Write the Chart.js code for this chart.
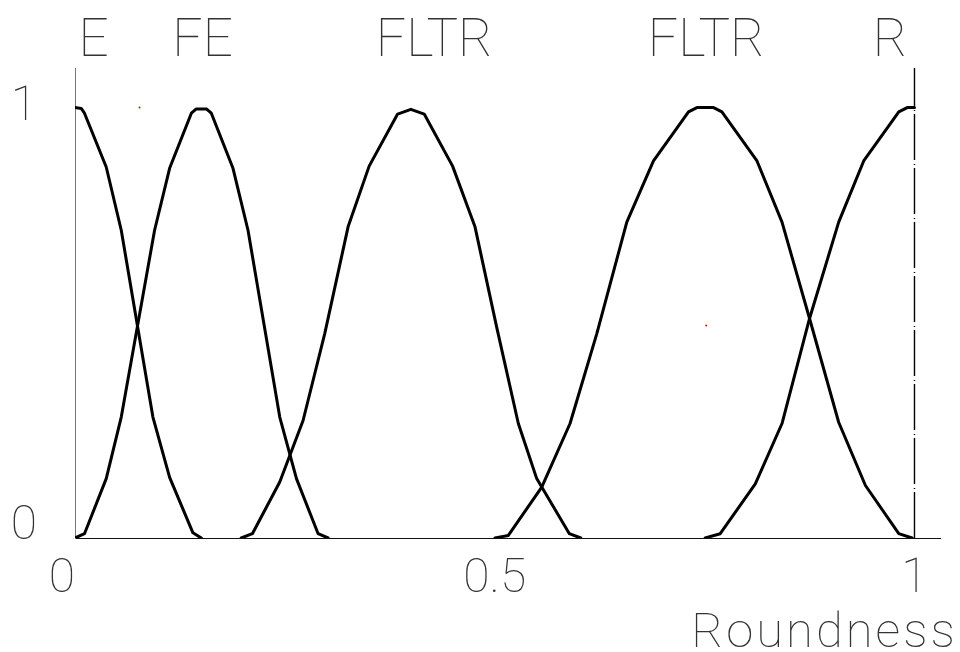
<!DOCTYPE html>
<html>
<head>
<meta charset="utf-8">
<title>Roundness membership functions</title>
<script src="https://cdn.jsdelivr.net/npm/chart.js@4.4.1/dist/chart.umd.min.js"></script>
<style>
    html, body { margin: 0; padding: 0; background: #fff; }
    #wrap { width: 960px; height: 652px; }
</style>
</head>
<body>
<div id="wrap"><canvas id="fuzzyChart" width="960" height="652"></canvas></div>
<script>
// Membership curves as [roundness, membership] vertices
const eCurve = [[0, 1], [0.0074, 0.998], [0.0113, 0.987], [0.0372, 0.862], [0.0551, 0.715],
    [0.0928, 0.281], [0.1127, 0.141], [0.1405, 0.012], [0.1505, 0]];
const feCurve = [[0, 0], [0.0113, 0.01], [0.0372, 0.138], [0.0551, 0.281], [0.0948, 0.715],
    [0.1127, 0.859], [0.1386, 0.987], [0.1445, 0.997], [0.1565, 0.997], [0.1624, 0.987],
    [0.1882, 0.859], [0.2061, 0.715], [0.2439, 0.281], [0.2638, 0.138], [0.2896, 0.01], [0.3015, 0]];
const fltr1Curve = [[0.198, 0], [0.2113, 0.01], [0.2439, 0.13], [0.2717, 0.273], [0.2975, 0.475],
    [0.3253, 0.723], [0.3504, 0.864], [0.3843, 0.985], [0.4001, 0.996], [0.416, 0.985],
    [0.4498, 0.864], [0.4765, 0.723], [0.5023, 0.49], [0.5281, 0.266], [0.55, 0.138],
    [0.5889, 0.01], [0.6025, 0]];
const fltr2Curve = [[0.5003, 0], [0.5162, 0.006], [0.556, 0.118], [0.5897, 0.266], [0.6216, 0.475],
    [0.6573, 0.734], [0.6891, 0.876], [0.7308, 0.99], [0.7408, 1], [0.7607, 1], [0.7706, 0.99],
    [0.8124, 0.876], [0.8422, 0.734], [0.875, 0.51], [0.9097, 0.269], [0.9416, 0.122],
    [0.9813, 0.01], [0.9972, 0]];
const rCurve = [[0.7507, 0], [0.7686, 0.01], [0.8104, 0.126], [0.8422, 0.266], [0.875, 0.51],
    [0.9097, 0.734], [0.9395, 0.876], [0.9813, 0.99], [0.9913, 1], [1, 1]];

// Stray red specks in the original plot
const strayPoints = [[0.0769, 1.0], [0.7519, 0.494]];

// Dashed limit line at roundness = 1
const limitLine = [[1, 0], [1, 1.092]];

// Labels
const setNames = ['E', 'FE', 'FLTR', 'FLTR', 'R'];
const setNamePos = [0.022, 0.152, 0.428, 0.752, 0.971];
const xTicks = [0, 0.5, 1];
const yTicks = [0, 1];
const xTitle = 'Roundness';

const X_MAX = 1.0304;
const Y_MAX = 1.092;
const FONT_FAMILY = '"Roboto Thin", "Lato Hairline", "Roboto", "Lato", sans-serif';
const TEXT_COLOR = '#333';

function toPoints(pairs) {
    return pairs.map(p => ({ x: p[0], y: p[1] }));
}

function curveDataset(pairs) {
    return {
        data: toPoints(pairs),
        borderColor: '#000',
        borderWidth: 3,
        borderJoinStyle: 'round',
        borderCapStyle: 'round',
        pointRadius: 0,
        tension: 0,
        fill: false
    };
}

// Draws the set names, tick labels and axis title
const labelPlugin = {
    id: 'plotLabels',
    afterDraw(chart) {
        const ctx = chart.ctx;
        const xs = chart.scales.x;
        const ys = chart.scales.y;
        const area = chart.chartArea;
        ctx.save();
        ctx.fillStyle = TEXT_COLOR;
        ctx.textBaseline = 'alphabetic';

        // set names along the top
        ctx.font = `100 53px ${FONT_FAMILY}`;
        ctx.textAlign = 'center';
        setNames.forEach((name, i) => {
            ctx.fillText(name, xs.getPixelForValue(setNamePos[i]), 56);
        });

        // x tick labels
        ctx.font = `100 48px ${FONT_FAMILY}`;
        xTicks.forEach(v => {
            const px = xs.getPixelForValue(v);
            ctx.textAlign = v === 0 ? 'right' : 'center';
            ctx.fillText(String(v), px, 592);
        });

        // y tick labels
        ctx.textAlign = 'center';
        yTicks.forEach(v => {
            const py = Math.min(ys.getPixelForValue(v) + 12, area.bottom + 1);
            ctx.fillText(String(v), 24, py);
        });

        // axis title
        ctx.font = `100 49px ${FONT_FAMILY}`;
        ctx.letterSpacing = '3px';
        ctx.textAlign = 'right';
        ctx.fillText(xTitle, 958, 647);
        ctx.restore();
    }
};

const ctx = document.getElementById('fuzzyChart').getContext('2d');
new Chart(ctx, {
    type: 'line',
    data: {
        datasets: [
            curveDataset(eCurve),
            curveDataset(feCurve),
            curveDataset(fltr1Curve),
            curveDataset(fltr2Curve),
            curveDataset(rCurve),
            {
                data: toPoints(limitLine),
                borderColor: '#000',
                borderWidth: 1.4,
                borderDash: [46, 3, 1, 4],
                borderCapStyle: 'butt',
                pointRadius: 0,
                fill: false
            },
            {
                type: 'scatter',
                data: toPoints(strayPoints),
                backgroundColor: '#e00000',
                borderWidth: 0,
                pointRadius: 1
            }
        ]
    },
    options: {
        responsive: false,
        animation: false,
        devicePixelRatio: 1,
        layout: { padding: { left: 75, top: 68, right: 20, bottom: 114 } },
        plugins: {
            legend: { display: false },
            tooltip: { enabled: false }
        },
        scales: {
            x: {
                type: 'linear',
                min: 0,
                max: X_MAX,
                grid: { display: false, drawTicks: false },
                ticks: { display: false },
                border: { display: true, color: '#111', width: 1 }
            },
            y: {
                type: 'linear',
                min: 0,
                max: Y_MAX,
                grid: { display: false, drawTicks: false },
                ticks: { display: false },
                border: { display: true, color: '#777', width: 1 }
            }
        }
    },
    plugins: [labelPlugin]
});
</script>
</body>
</html>
